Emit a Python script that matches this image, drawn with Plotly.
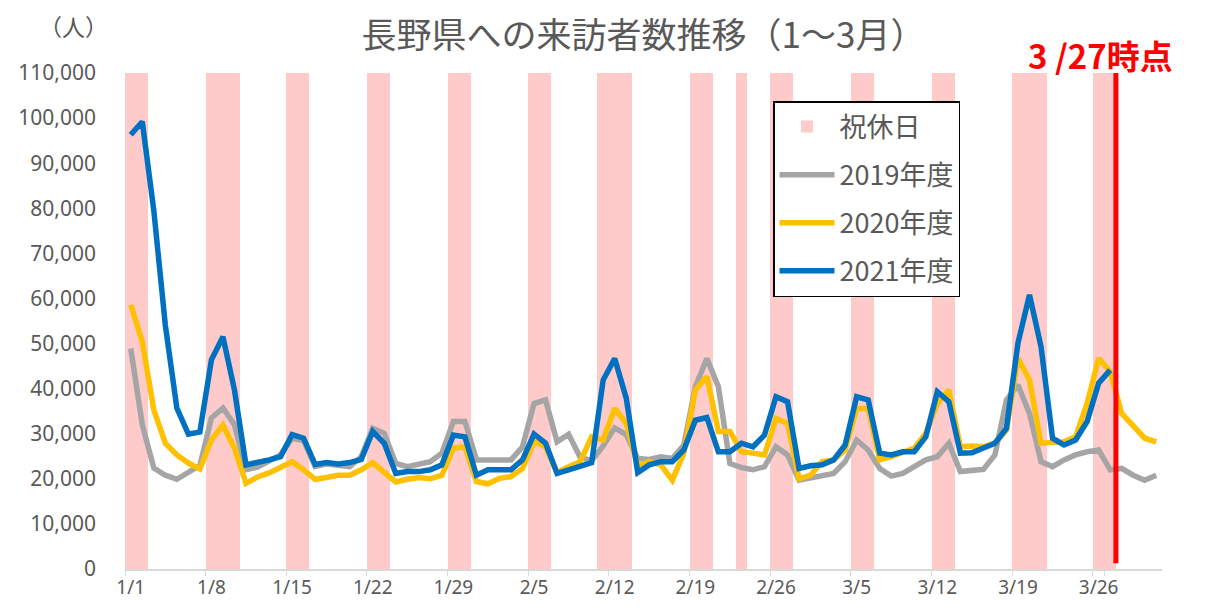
import pandas as pd
import plotly.graph_objects as go

# ---- categories (daily, 1/1 .. 3/31) ----
dates = [f"{d.month}/{d.day}" for d in pd.date_range("2021-01-01", "2021-03-31")]
tick_labels = ["1/1", "1/8", "1/15", "1/22", "1/29", "2/5", "2/12", "2/19", "2/26",
               "3/5", "3/12", "3/19", "3/26"]

# ---- holidays / weekends (shaded) ----
holidays = ["1/1", "1/2", "1/8", "1/9", "1/10", "1/15", "1/16", "1/22", "1/23",
            "1/29", "1/30", "2/5", "2/6", "2/11", "2/12", "2/13", "2/19", "2/20",
            "2/23", "2/26", "2/27", "3/5", "3/6", "3/12", "3/13", "3/19", "3/20",
            "3/21", "3/26", "3/27"]
holiday_level = 110000

# ---- visitors ----
visitors_2019 = [48900, 32000, 22400, 20800, 19900, 21300, 23000, 33500, 35700, 32000,
                 22000, 22600, 23800, 25300, 29000, 28500, 22700, 23300, 23000, 22700,
                 24900, 31200, 30100, 23400, 22700, 23300, 23800, 25700, 32700, 32700,
                 24200, 24200, 24200, 24200, 27100, 36700, 37500, 28200, 29900, 24800,
                 24000, 27300, 31300, 29800, 24500, 24300, 24900, 24500, 27500, 40400,
                 46700, 40400, 23400, 22500, 22000, 22700, 27100, 25300, 19700, 20200,
                 20500, 21200, 23800, 28600, 26400, 22300, 20600, 21200, 22700, 24200,
                 24900, 27900, 21600, 22000, 22100, 25300, 37500, 40800, 34500, 23800,
                 22700, 24200, 25300, 26000, 26400, 22000, 22300, 20800, 19700, 20800]

visitors_2020 = [58600, 50400, 35300, 27900, 25300, 23500, 22200, 28600, 31900, 26800,
                 19000, 20400, 21300, 22600, 23800, 22000, 19900, 20300, 20800, 20800,
                 22000, 23600, 21600, 19300, 19900, 20300, 20000, 20800, 26800, 27100,
                 19400, 18900, 20100, 20500, 22300, 28200, 27100, 21400, 22700, 23800,
                 29300, 28600, 35600, 32300, 22900, 23800, 23100, 19700, 25700, 39700,
                 42700, 30500, 30500, 26000, 25700, 25300, 33400, 32300, 20000, 20800,
                 23800, 24200, 26400, 35600, 35600, 24200, 24900, 26000, 26800, 30100,
                 36700, 39700, 27100, 27300, 27100, 27900, 30800, 46700, 41900, 27900,
                 27900, 28200, 29300, 36700, 46700, 43800, 34500, 31600, 29000, 28200]

visitors_2021 = [96300, 99200, 79500, 54100, 35700, 29900, 30400, 46400, 51500, 39700,
                 23100, 23500, 24200, 24900, 29800, 29000, 23200, 23600, 23300, 23600,
                 24300, 30500, 27900, 21200, 21600, 21600, 22000, 23100, 29700, 29300,
                 20800, 22000, 22000, 22000, 24200, 29900, 27900, 21200, 22000, 22700,
                 23600, 41900, 46700, 37900, 21400, 23100, 23800, 23800, 26400, 33000,
                 33600, 26000, 26000, 27900, 27100, 29700, 38200, 37100, 22300, 22900,
                 23100, 24200, 27500, 38200, 37500, 25700, 25300, 26000, 26000, 29300,
                 39300, 37100, 25700, 25800, 26800, 27900, 31200, 50100, 60800, 49300,
                 29000, 27500, 28600, 32700, 41200, 44100]

cutoff_date = "3/27"

GRAY_TXT = "#595959"
JP = "Noto Sans CJK JP"

# page body has an 8px margin: figure is laid out in its own coordinates
W, H = 1201, 602
L, R, T, B = 117, 47, 65, 41
PW, PH = W - L - R, H - T - B


def px(sx):  # screen x -> paper x
    return (sx - 8 - L) / PW


def py(sy):  # screen y -> paper y
    return (H - B - (sy - 8)) / PH


fig = go.Figure()

fig.add_trace(go.Bar(
    x=holidays, y=[holiday_level] * len(holidays), name="祝休日",
    marker=dict(color="#FFCACA", line=dict(width=0)), legendgroup="h",
    hoverinfo="skip"))

series = [("2019年度", visitors_2019, "#A5A5A5"),
          ("2020年度", visitors_2020, "#FFC000"),
          ("2021年度", visitors_2021, "#0070C0")]
for name, vals, col in series:
    fig.add_trace(go.Scatter(
        x=dates[:len(vals)], y=vals, name=name, mode="lines", legendgroup=name,
        line=dict(color=col, width=5.5, shape="linear")))

cut_idx = dates.index(cutoff_date) + 0.5
fig.add_shape(type="line", xref="x", yref="y", x0=cut_idx, x1=cut_idx,
              y0=1300, y1=110000, line=dict(color="#FF0000", width=5), layer="above")

fig.update_layout(
    width=W, height=H,
    margin=dict(l=L, r=R, t=T, b=B),
    plot_bgcolor="white", paper_bgcolor="white",
    bargap=0,
    title=dict(text="長野県への来訪者数推移（1～3月）", x=0.5, xref="paper",
               xanchor="center", y=1 - (36 - 8) / H, yanchor="middle",
               font=dict(family=JP, size=35, color=GRAY_TXT)),
    font=dict(family=JP, color=GRAY_TXT),
    legend=dict(x=px(773), y=py(101), xanchor="left", yanchor="top",
                bordercolor="black", borderwidth=1.5, bgcolor="white",
                font=dict(family=JP, size=27, color=GRAY_TXT),
                traceorder="grouped", tracegroupgap=10, itemwidth=55),
    xaxis=dict(type="category", categoryorder="array", categoryarray=dates,
               range=[-0.5, len(dates) - 0.5], automargin=False,
               tickmode="array", tickvals=tick_labels, ticktext=tick_labels,
               tickangle=0,
               tickson="boundaries", ticks="outside", ticklen=5, tickcolor="#D9D9D9",
               showline=True, linecolor="#D9D9D9", linewidth=1.5,
               showgrid=False, zeroline=False,
               tickfont=dict(family="Noto Sans", size=19, color=GRAY_TXT)),
    yaxis=dict(range=[0, 110000], dtick=10000, tickformat=",d", automargin=False,
               showgrid=False, zeroline=False, showline=False, ticks="",
               ticklabelstandoff=28,
               tickfont=dict(family="Noto Sans", size=21, color=GRAY_TXT)),
    annotations=[
        dict(text="（人）", xref="paper", yref="paper", x=px(73),
             y=py(26), xanchor="center", yanchor="middle", showarrow=False,
             font=dict(family=JP, size=23, color=GRAY_TXT)),
        dict(text="<b>3 /27時点</b>", xref="paper", yref="paper", x=px(1100),
             y=py(55), xanchor="center", yanchor="middle", showarrow=False,
             font=dict(family=JP, size=33, color="#FF0000")),
    ],
)

fig.write_html("out.html")
